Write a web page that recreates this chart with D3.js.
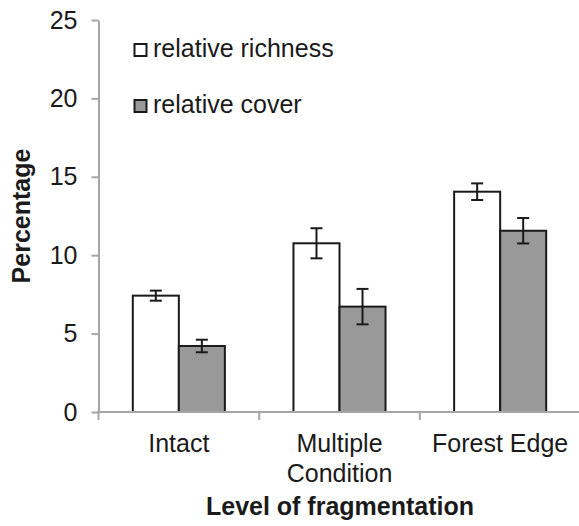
<!DOCTYPE html>
<html><head><meta charset="utf-8">
<script src="https://cdn.jsdelivr.net/npm/d3@7"></script>
<style>body{margin:0;background:#fff}svg{display:block}text{font-family:"Liberation Sans",Arial,sans-serif;fill:#1a1a1a}</style>
</head><body>
<svg id="c" width="579" height="526"></svg>
<script>
const categories = [["Intact"], ["Multiple", "Condition"], ["Forest Edge"]];
const seriesNames = ["relative richness", "relative cover"];
const richness = [7.42, 10.76, 14.05];
const richnessErr = [0.32, 0.96, 0.53];
const cover = [4.21, 6.72, 11.56];
const coverErr = [0.40, 1.13, 0.81];
const yTicks = [0, 5, 10, 15, 20, 25];

const fills = ["#ffffff", "#999999"];
const svg = d3.select("#c");
const catKeys = categories.map(c => c.join(" "));
const x0 = d3.scaleBand().domain(catKeys).range([98.5, 580.5]).paddingInner(0.427).paddingOuter(0.2135);
const x1 = d3.scaleBand().domain(seriesNames).range([0, x0.bandwidth()]);
const y = d3.scaleLinear().domain([0, 25]).range([412, 20]);

const data = [];
catKeys.forEach((k, i) => {
  data.push({cat: k, s: seriesNames[0], v: richness[i], e: richnessErr[i], f: fills[0]});
  data.push({cat: k, s: seriesNames[1], v: cover[i], e: coverErr[i], f: fills[1]});
});

// bars
svg.append("g").selectAll("rect").data(data).join("rect")
  .attr("x", d => x0(d.cat) + x1(d.s))
  .attr("y", d => y(d.v))
  .attr("width", x1.bandwidth())
  .attr("height", d => y(0) - y(d.v))
  .attr("fill", d => d.f)
  .attr("stroke", "#1a1a1a")
  .attr("stroke-width", 2);

// error bars
const eg = svg.append("g").attr("stroke", "#1a1a1a").attr("stroke-width", 2);
data.forEach(d => {
  const cx = x0(d.cat) + x1(d.s) + x1.bandwidth() / 2;
  eg.append("line").attr("x1", cx).attr("x2", cx).attr("y1", y(d.v + d.e)).attr("y2", y(d.v - d.e));
  eg.append("line").attr("x1", cx - 6).attr("x2", cx + 6).attr("y1", y(d.v + d.e)).attr("y2", y(d.v + d.e));
  eg.append("line").attr("x1", cx - 6).attr("x2", cx + 6).attr("y1", y(d.v - d.e)).attr("y2", y(d.v - d.e));
});

// y axis
const yAxis = d3.axisLeft(y).tickValues(yTicks).tickSize(7).tickPadding(14).tickSizeOuter(0);
const ya = svg.append("g").attr("transform", "translate(98.5,0)").call(yAxis);
ya.select(".domain").attr("stroke", "#a6a6a6").attr("stroke-width", 2);
ya.selectAll(".tick line").attr("stroke", "#a6a6a6").attr("stroke-width", 2);
ya.selectAll(".tick text").attr("font-size", 25).attr("fill", "#1a1a1a").attr("font-family", "Liberation Sans, Arial, sans-serif");

// x axis
const xa = svg.append("g").attr("transform", "translate(0,412)");
xa.append("line").attr("x1", 97.5).attr("x2", 580).attr("stroke", "#a6a6a6").attr("stroke-width", 2);
const step = x0.step();
const boundaries = [0, 1, 2, 3].map(i => x0.range()[0] + i * step);
xa.selectAll(".bt").data(boundaries).join("line").attr("class", "bt")
  .attr("x1", d => d).attr("x2", d => d).attr("y1", 0).attr("y2", 8)
  .attr("stroke", "#a6a6a6").attr("stroke-width", 2);
categories.forEach((lines, i) => {
  const cx = x0(catKeys[i]) + x0.bandwidth() / 2;
  const t = xa.append("text").attr("text-anchor", "middle").attr("font-size", 25);
  lines.forEach((ln, j) => t.append("tspan").attr("x", cx).attr("y", 40 + j * 30).text(ln));
});

// axis titles
svg.append("text").attr("x", 340).attr("y", 515).attr("text-anchor", "middle")
  .attr("font-size", 25).attr("font-weight", "bold").text("Level of fragmentation");
svg.append("text").attr("transform", "translate(29.5,216) rotate(-90)").attr("text-anchor", "middle")
  .attr("font-size", 25).attr("font-weight", "bold").text("Percentage");

// legend
const lg = svg.append("g");
seriesNames.forEach((s, i) => {
  const yy = 57 + i * 56;
  lg.append("rect").attr("x", 134.5).attr("y", yy - 13).attr("width", 12).attr("height", 12)
    .attr("fill", fills[i]).attr("stroke", "#1a1a1a").attr("stroke-width", 2);
  lg.append("text").attr("x", 153).attr("y", yy).attr("font-size", 25).text(s);
});
</script>
</body></html>
